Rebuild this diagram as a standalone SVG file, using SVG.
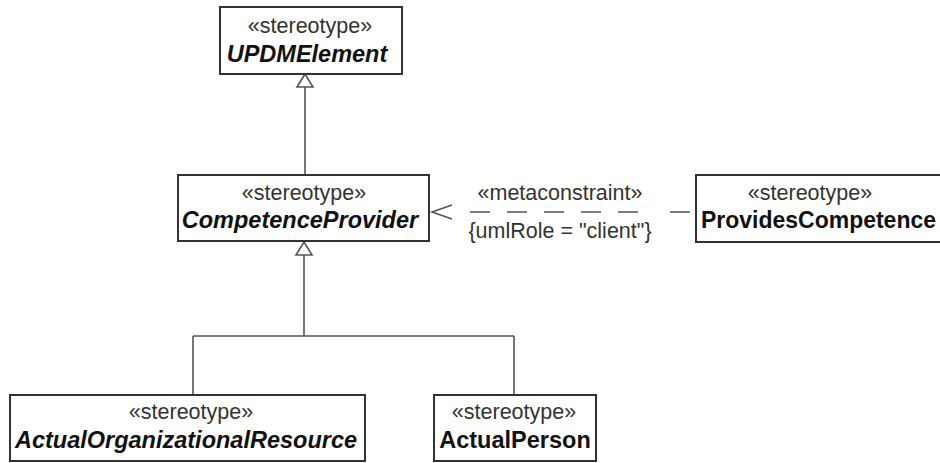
<svg xmlns="http://www.w3.org/2000/svg" width="940" height="463" viewBox="0 0 940 463">
<style>
.box{fill:#fff;stroke:#333;stroke-width:2}
.st{font-family:"Liberation Sans",Arial,sans-serif;font-size:21.5px;fill:#333;text-anchor:middle}
.nm{font-family:"Liberation Sans",Arial,sans-serif;font-size:23.5px;font-weight:bold;fill:#111;text-anchor:middle}
.ab{font-style:italic}
.ln{fill:none;stroke:#555;stroke-width:1.6}
.tri{fill:#fff;stroke:#555;stroke-width:1.6}
</style>
<rect width="940" height="463" fill="#fff"/>
<g id="connectors">
  <path class="ln" d="M305 87 V175"/>
  <polygon class="tri" points="305,74 297,87 313,87"/>
  <path class="ln" d="M304 255 V336 M193 336 H514 M193 336 V395 M514 336 V395"/>
  <polygon class="tri" points="304,242 296,255 312,255"/>
  <path class="ln" d="M470 212 H490 M507 212 H527 M544 212 H564 M581 212 H601 M618 212 H638 M670 212 H690"/>
  <path class="ln" d="M452 205 L432 212 L452 219"/>
  <text class="st" x="560" y="200">«metaconstraint»</text>
  <text class="st" x="560" y="238">{umlRole = "client"}</text>
</g>
<g id="UPDMElement">
  <rect class="box" x="220" y="7" width="182" height="67"/>
  <text class="st" x="310" y="33">«stereotype»</text>
  <text class="nm ab" x="307" y="62">UPDMElement</text>
</g>
<g id="CompetenceProvider">
  <rect class="box" x="178" y="175" width="251" height="66"/>
  <text class="st" x="304" y="200">«stereotype»</text>
  <text class="nm ab" x="300" y="228">CompetenceProvider</text>
</g>
<g id="ProvidesCompetence">
  <rect class="box" x="696" y="175" width="260" height="67"/>
  <text class="st" x="810" y="200">«stereotype»</text>
  <text class="nm" x="701" y="228" style="text-anchor:start" textLength="235" lengthAdjust="spacingAndGlyphs">ProvidesCompetence</text>
</g>
<g id="ActualOrganizationalResource">
  <rect class="box" x="10" y="395" width="355" height="66"/>
  <text class="st" x="191" y="419">«stereotype»</text>
  <text class="nm ab" x="186" y="448">ActualOrganizationalResource</text>
</g>
<g id="ActualPerson">
  <rect class="box" x="434" y="395" width="162" height="66"/>
  <text class="st" x="514" y="419">«stereotype»</text>
  <text class="nm" x="515" y="448">ActualPerson</text>
</g>
</svg>
